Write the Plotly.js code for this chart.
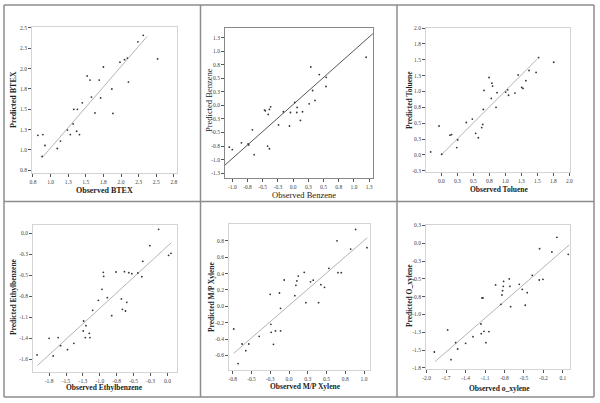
<!DOCTYPE html>
<html><head><meta charset="utf-8">
<script src="https://cdn.plot.ly/plotly-3.0.1.min.js"></script>
<style>html,body{margin:0;padding:0;background:#fff}#chart{width:600px;height:403px}</style>
</head><body><div id="chart"></div>
<script>
// ---- BTEX ----
const btexObs  = [0.82,0.89,0.92,0.88,1.095,1.14,1.24,1.28,1.32,1.33,1.38,1.37,1.41,1.45,1.52,1.56,1.58,1.63,1.69,1.71,1.75,1.87,1.885,1.985,2.05,2.09,2.105,2.24,2.316,2.52];
const btexPred = [1.18,1.19,1.055,0.92,1.018,1.11,1.245,1.19,1.32,1.50,1.50,1.23,1.19,1.58,1.91,1.86,1.65,1.455,1.86,1.64,2.02,1.75,1.45,2.08,2.11,2.13,1.835,2.33,2.41,2.12];
const btexLineX = [0.89, 2.37];
const btexLineY = [0.915, 2.396];
const btexXTicks = [0.75,1,1.25,1.5,1.75,2,2.25,2.5,2.75];
const btexXLabels = ["0.8","1.0","1.3","1.5","1.8","2.0","2.3","2.5","2.8"];
const btexYTicks = [0.75,1,1.25,1.5,1.75,2,2.25,2.5];
const btexYLabels = ["0.8","1.0","1.3","1.5","1.8","2.0","2.3","2.5"];

// ---- Benzene ----
const benzObs  = [-1.05,-1.0,-0.85,-0.74,-0.73,-0.67,-0.64,-0.47,-0.456,-0.42,-0.39,-0.41,-0.39,-0.37,-0.24,-0.16,-0.06,-0.044,0.027,0.06,0.066,0.12,0.154,0.264,0.29,0.32,0.36,0.43,0.54,0.544,1.20];
const benzPred = [-0.77,-0.815,-0.69,-0.71,-0.73,-0.45,-0.91,-0.086,-0.10,-0.75,-0.80,-0.166,-0.074,-0.025,-0.36,-0.117,-0.38,-0.13,0.055,-0.13,-0.037,-0.276,-0.117,0.03,0.71,0.276,0.092,0.57,0.35,0.52,0.89];
const benzLineX = [-1.12, 1.31];
const benzLineY = [-1.10, 1.325];
const benzXTicks = [-1,-0.75,-0.5,-0.25,0,0.25,0.5,0.75,1,1.25];
const benzXLabels = ["-1.0","-0.8","-0.5","-0.3","0.0","0.3","0.5","0.8","1.0","1.3"];
const benzYTicks = [-1.25,-1,-0.75,-0.5,-0.25,0,0.25,0.5,0.75,1,1.25];
const benzYLabels = ["-1.3","-1.0","-0.8","-0.5","-0.3","0.0","0.3","0.5","0.8","1.0","1.3"];

// ---- Toluene ----
const tolObs  = [-0.167,-0.036,0.005,0.135,0.16,0.24,0.255,0.39,0.484,0.536,0.578,0.63,0.646,0.656,0.667,0.745,0.78,0.79,0.80,0.854,0.87,1.005,1.036,1.05,1.15,1.20,1.255,1.276,1.32,1.37,1.48,1.52,1.755];
const tolPred = [0.047,0.455,0.01,0.31,0.32,0.115,0.235,0.51,0.565,0.34,0.27,0.43,0.48,0.717,1.016,1.22,0.89,1.13,1.084,0.75,0.98,0.99,1.026,0.94,0.974,1.26,1.063,1.047,1.17,1.33,1.30,1.534,1.46];
const tolLineX = [0.0, 1.505];
const tolLineY = [0.0, 1.518];
const tolXTicks = [0,0.25,0.5,0.75,1,1.25,1.5,1.75,2];
const tolXLabels = ["0.0","0.3","0.5","0.8","1.0","1.3","1.5","1.8","2.0"];
const tolYTicks = [-0.25,0,0.25,0.5,0.75,1,1.25,1.5,1.75,2];
const tolYLabels = ["-0.3","0.0","0.3","0.5","0.8","1.0","1.3","1.5","1.8","2.0"];

// ---- Ethylbenzene ----
const ethObs  = [-1.928,-1.75,-1.69,-1.616,-1.58,-1.478,-1.384,-1.24,-1.245,-1.205,-1.215,-1.156,-1.146,-1.106,-1.022,-0.968,-0.948,-0.943,-0.889,-0.824,-0.76,-0.681,-0.666,-0.636,-0.621,-0.601,-0.572,-0.527,-0.438,-0.379,-0.364,-0.26,-0.131,0.017,0.052];
const ethPred = [-1.564,-1.35,-1.577,-1.341,-1.444,-1.496,-1.414,-1.127,-1.256,-1.187,-1.341,-1.286,-1.341,-0.99,-0.861,-0.72,-0.501,-0.553,-0.827,-1.059,-0.497,-0.844,-0.977,-0.493,-0.999,-0.887,-0.506,-0.519,-0.51,-0.557,-0.36,-0.159,0.051,-0.283,-0.257];
const ethLineX = [-1.923, 0.057];
const ethLineY = [-1.70, -0.12];
const ethXTicks = [-1.75,-1.5,-1.25,-1,-0.75,-0.5,-0.25,0];
const ethXLabels = ["-1.8","-1.5","-1.3","-1.0","-0.8","-0.5","-0.3","0.0"];
const ethYTicks = [-1.62,-1.35,-1.08,-0.81,-0.54,-0.27,0];
const ethYLabels = ["-1.6","-1.4","-1.1","-0.8","-0.5","-0.3","0.0"];

// ---- M/P Xylene ----
const mpObs  = [-0.737,-0.679,-0.625,-0.576,-0.536,-0.398,-0.251,-0.242,-0.238,-0.207,-0.18,-0.127,-0.113,-0.113,-0.064,0.078,0.092,0.105,0.123,0.203,0.225,0.287,0.323,0.394,0.425,0.474,0.532,0.64,0.653,0.697,0.822,0.888,1.04];
const mpPred = [-0.277,-0.70,-0.46,-0.542,-0.46,-0.367,0.147,-0.22,-0.318,-0.464,-0.30,0.163,-0.024,-0.30,0.322,0.13,0.257,0.31,0.37,0.415,0.045,0.30,0.32,0.045,0.265,0.232,0.464,0.80,0.411,0.411,0.70,0.94,0.717];
const mpLineX = [-0.737, 1.044];
const mpLineY = [-0.574, 0.839];
const mpXTicks = [-0.75,-0.5,-0.25,0,0.25,0.5,0.75,1];
const mpXLabels = ["-0.8","-0.5","-0.3","0.0","0.3","0.5","0.8","1.0"];
const mpYTicks = [-0.6,-0.4,-0.2,0,0.2,0.4,0.6,0.8];
const mpYLabels = ["-0.6","-0.4","-0.2","0.0","0.2","0.4","0.6","0.8"];

// ---- o_xylene ----
const oxObs  = [-1.882,-1.676,-1.625,-1.553,-1.522,-1.399,-1.286,-1.163,-1.158,-1.147,-1.132,-1.117,-1.086,-1.04,-0.937,-0.855,-0.839,-0.829,-0.819,-0.814,-0.716,-0.706,-0.726,-0.572,-0.526,-0.48,-0.449,-0.372,-0.264,-0.259,-0.207,-0.069,0.008,0.183];
const oxPred = [-1.526,-1.217,-1.634,-1.395,-1.484,-1.404,-1.311,-1.133,-1.269,-0.768,-0.768,-1.236,-1.395,-1.24,-0.585,-0.857,-0.726,-0.665,-0.604,-0.534,-0.604,-0.89,-0.50,-0.576,-0.646,-0.87,-0.693,-0.449,-0.515,-0.075,-0.506,-0.122,0.084,-0.155];
const oxLineX = [-1.872, 0.198];
const oxLineY = [-1.662, -0.023];
const oxXTicks = [-2.0,-1.7,-1.4,-1.1,-0.8,-0.5,-0.2,0.1];
const oxXLabels = ["-2.0","-1.7","-1.4","-1.1","-0.8","-0.5","-0.2","0.1"];
const oxYTicks = [-1.75,-1.5,-1.25,-1,-0.75,-0.5,-0.25,0,0.25];
const oxYLabels = ["-1.8","-1.5","-1.3","-1.0","-0.8","-0.5","-0.3","0.0","0.3"];

const W = 600, H = 403;
const SERIF = 'Liberation Serif, Times New Roman, serif';

const panels = [
  {obs:btexObs, pred:btexPred, lx:btexLineX, ly:btexLineY, xt:btexXTicks, xl:btexXLabels, yt:btexYTicks, yl:btexYLabels,
   px:[32,177], py:[27,173], xr:[0.736,2.795], yr:[0.717,2.512],
   xtitle:'Observed BTEX', ytitle:'Predicted BTEX', xtp:[104,190], ytp:[13,100], bold:true, fs:8, dark:false},
  {obs:benzObs, pred:benzPred, lx:benzLineX, ly:benzLineY, xt:benzXTicks, xl:benzXLabels, yt:benzYTicks, yl:benzYLabels,
   px:[225,373], py:[28,178], xr:[-1.12,1.313], yr:[-1.34,1.43],
   xtitle:'Observed Benzene', ytitle:'Predicted Benzene', xtp:[304,195], ytp:[209,100], bold:false, fs:8.5, dark:true},
  {obs:tolObs, pred:tolPred, lx:tolLineX, ly:tolLineY, xt:tolXTicks, xl:tolXLabels, yt:tolYTicks, yl:tolYLabels,
   px:[426,570], py:[28,172], xr:[-0.24,2.01], yr:[-0.27,2.0],
   xtitle:'Observed Toluene', ytitle:'Predicted Toluene', xtp:[499,189], ytp:[409,100], bold:true, fs:7.5, dark:false},
  {obs:ethObs, pred:ethPred, lx:ethLineX, ly:ethLineY, xt:ethXTicks, xl:ethXLabels, yt:ethYTicks, yl:ethYLabels,
   px:[33,177], py:[225,372], xr:[-1.988,0.141], yr:[-1.783,0.107],
   xtitle:'Observed Ethylbenzene', ytitle:'Predicted Ethylbenzene', xtp:[104,387], ytp:[13,297], bold:true, fs:7.5, dark:false},
  {obs:mpObs, pred:mpPred, lx:mpLineX, ly:mpLineY, xt:mpXTicks, xl:mpXLabels, yt:mpYTicks, yl:mpYLabels,
   px:[229,370], py:[224,370], xr:[-0.80,1.08], yr:[-0.778,1.006],
   xtitle:'Observed M/P Xylene', ytitle:'Predicted M/P Xylene', xtp:[305,386], ytp:[211,297], bold:true, fs:7.5, dark:false},
  {obs:oxObs, pred:oxPred, lx:oxLineX, ly:oxLineY, xt:oxXTicks, xl:oxXLabels, yt:oxYTicks, yl:oxYLabels,
   px:[426,570], py:[225,369], xr:[-2.01,0.21], yr:[-1.765,0.257],
   xtitle:'Observed o_xylene', ytitle:'Predicted O_xylene', xtp:[499,388], ytp:[409,296], bold:true, fs:7.5, dark:false}
];

const data = [];
const layout = {
  width: W, height: H, margin:{l:0,r:0,t:0,b:0},
  paper_bgcolor:'#fff', plot_bgcolor:'#fff', showlegend:false,
  font:{family:SERIF, color:'#333'},
  shapes:[], annotations:[]
};

panels.forEach((p, i) => {
  const n = i + 1;
  const xa = 'xaxis' + (n === 1 ? '' : n), ya = 'yaxis' + (n === 1 ? '' : n);
  const xr = 'x' + (n === 1 ? '' : n), yr = 'y' + (n === 1 ? '' : n);
  data.push({x:p.lx, y:p.ly, xaxis:xr, yaxis:yr, mode:'lines', type:'scatter',
             line:{color: p.dark ? '#555' : '#b4b4b4', width:1}, hoverinfo:'skip'});
  data.push({x:p.obs, y:p.pred, xaxis:xr, yaxis:yr, mode:'markers', type:'scatter',
             marker:{color:'#333', size:1.8}});
  const axCommon = {showgrid:false, zeroline:false, showline:true, mirror:true,
    linecolor: p.dark ? '#888' : '#d4d4d4', linewidth:1,
    ticks:'outside', ticklen:3, tickwidth:1, tickcolor:'#555',
    tickfont:{family:SERIF, size:5.5, color:'#444'}, tickmode:'array', fixedrange:true};
  layout[xa] = Object.assign({}, axCommon, {domain:[p.px[0]/W, p.px[1]/W], range:p.xr,
    tickvals:p.xt, ticktext:p.xl, anchor:yr});
  layout[ya] = Object.assign({}, axCommon, {domain:[1-p.py[1]/H, 1-p.py[0]/H], range:p.yr,
    tickvals:p.yt, ticktext:p.yl, anchor:xr});
  const tf = {family:SERIF, size:p.fs, color:'#222'};
  layout.annotations.push({xref:'paper', yref:'paper', x:p.xtp[0]/W, y:1-p.xtp[1]/H,
    text: p.bold ? '<b>'+p.xtitle+'</b>' : p.xtitle, showarrow:false, font:tf, xanchor:'center', yanchor:'middle'});
  layout.annotations.push({xref:'paper', yref:'paper', x:p.ytp[0]/W, y:1-p.ytp[1]/H,
    text: p.bold ? '<b>'+p.ytitle+'</b>' : p.ytitle, showarrow:false, font:tf, textangle:-90, xanchor:'center', yanchor:'middle'});
});

const bc = '#8c8c8c';
const seg = (x0,y0,x1,y1) => ({type:'line', xref:'paper', yref:'paper', x0:x0/W, y0:1-y0/H, x1:x1/W, y1:1-y1/H, line:{color:bc, width:1.5}});
layout.shapes.push(seg(4,5,594,5), seg(4,397,594,397), seg(4,5,4,397), seg(594,5,594,397),
                   seg(200.5,5,200.5,397), seg(397,5,397,397), seg(4,201.5,594,201.5));

Plotly.newPlot('chart', data, layout, {staticPlot:true, displayModeBar:false});
</script>
</body></html>
